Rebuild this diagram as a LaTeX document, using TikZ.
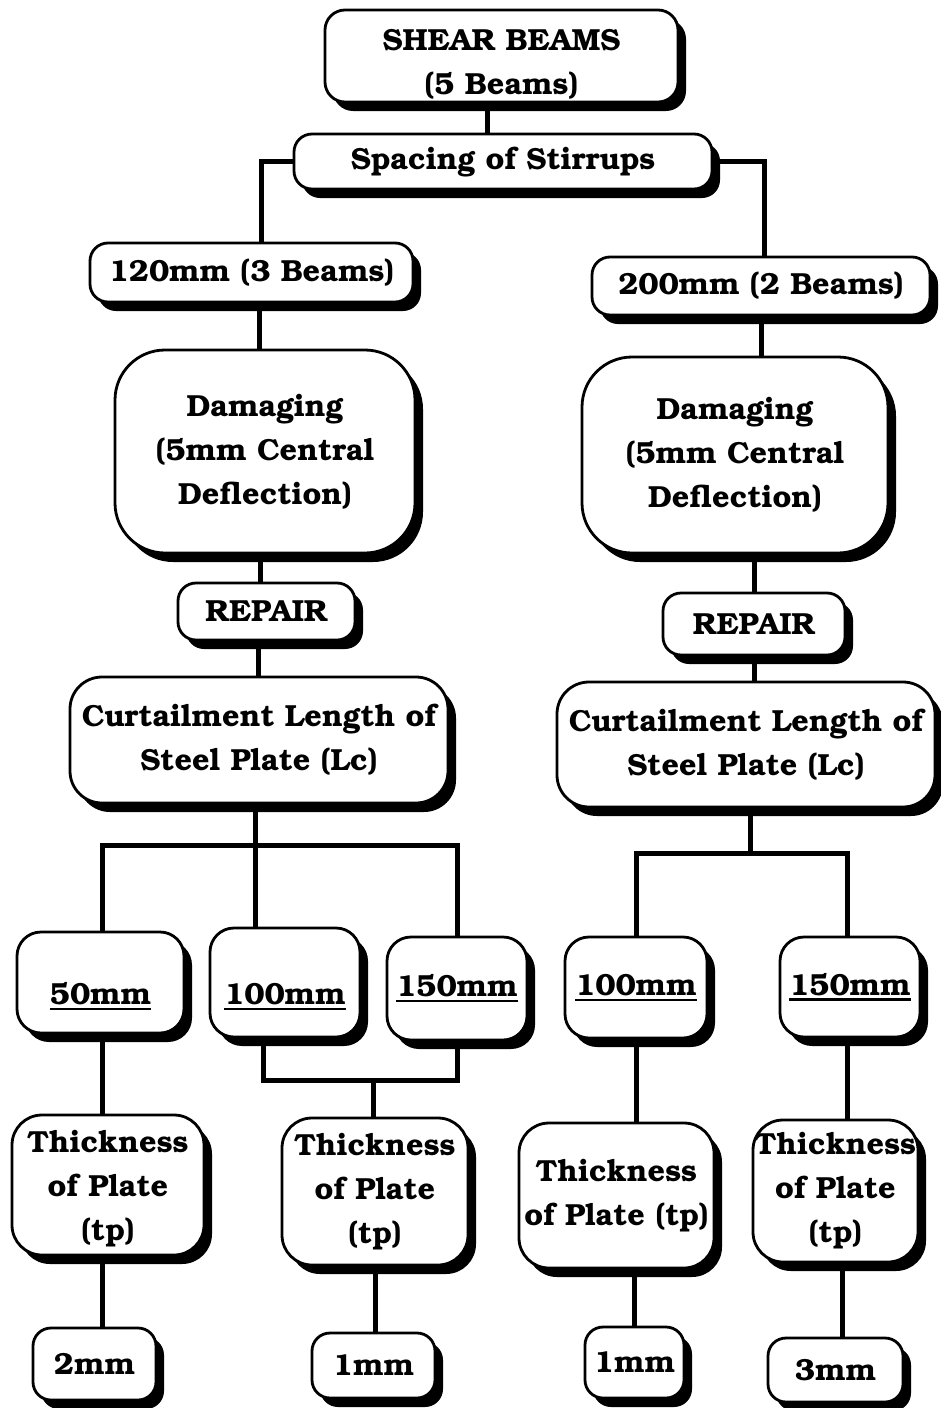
\documentclass[tikz,border=0pt]{standalone}
\usepackage[T1]{fontenc}
\usepackage{bookman}
\usetikzlibrary{shadows}
\newcommand\thkul[1]{\leavevmode\vtop{\hbox{#1}\kern2.5pt\hrule height 2.2pt}}
\tikzset{
  bx/.style={draw, line width=2.8pt, fill=white, align=center, inner sep=0pt,
    rounded corners=#1,
    font=\bfseries\fontsize{30.5}{44}\selectfont,
    drop shadow={shadow xshift=8pt, shadow yshift=-9pt, fill=black, opacity=1}},
  bx/.default=18pt,
  wire/.style={line width=5pt, line cap=butt, line join=miter}
}
\begin{document}
\begin{tikzpicture}[x=1pt,y=-1pt]
\useasboundingbox (0,0) rectangle (941,1408);
% boxes
\node[bx=20pt, minimum width=353pt, minimum height=92pt] (sb) at (501.5,56) {\rule{0pt}{32pt}SHEAR BEAMS\\\raisebox{0pt}[\height][0pt]{(5 Beams)}};
\node[bx=18pt, minimum width=418pt, minimum height=55pt] (sp) at (503,161.5) {Spacing of Stirrups};
\node[bx=18pt, minimum width=323pt, minimum height=59pt] (a120) at (251.5,272.5) {120mm (3 Beams)};
\node[bx=18pt, minimum width=338pt, minimum height=58pt] (a200) at (761,286) {200mm (2 Beams)};
\node[bx=50pt, minimum width=300pt, minimum height=203pt] (dmgL) at (265,451.5) {Damaging\\(5mm Central\\Deflection)};
\node[bx=50pt, minimum width=306pt, minimum height=196pt] (dmgR) at (735,455) {Damaging\\(5mm Central\\Deflection)};
\node[bx=18pt, minimum width=177pt, minimum height=57pt] (repL) at (266.5,611.5) {REPAIR};
\node[bx=18pt, minimum width=182pt, minimum height=62pt] (repR) at (754,624) {REPAIR};
\node[bx=32pt, minimum width=378pt, minimum height=126pt] (curL) at (259,740) {Curtailment Length of\\Steel Plate (Lc)};
\node[bx=32pt, minimum width=378pt, minimum height=125pt] (curR) at (746,744.5) {Curtailment Length of\\Steel Plate (Lc)};
\node[bx=24pt, minimum width=167pt, minimum height=101pt] (L50) at (100.5,982.5) {\rule{0pt}{50pt}\thkul{50mm}};
\node[bx=24pt, minimum width=150pt, minimum height=109pt] (L100) at (285,982.5) {\rule{0pt}{50pt}\thkul{100mm}};
\node[bx=24pt, minimum width=140pt, minimum height=103pt] (L150) at (457,988.5) {\thkul{150mm}};
\node[bx=24pt, minimum width=142pt, minimum height=101pt] (R100) at (636,987.5) {\thkul{100mm}};
\node[bx=24pt, minimum width=140pt, minimum height=100pt] (R150) at (850,987) {\thkul{150mm}};
\node[bx=30pt, minimum width=192pt, minimum height=140pt] (T1) at (108,1185) {\rule{0pt}{30pt}Thickness\\of Plate\\(tp)};
\node[bx=30pt, minimum width=186pt, minimum height=147pt] (T2) at (375,1191.5) {Thickness\\of Plate\\(tp)};
\node[bx=30pt, minimum width=195pt, minimum height=145pt] (T3) at (616.5,1195.5) {Thickness\\of Plate (tp)};
\node[bx=30pt, minimum width=165pt, minimum height=142pt] (T4) at (835.5,1191) {Thickness\\of Plate\\(tp)};
\node[bx=18pt, minimum width=123pt, minimum height=72pt] (B2) at (94.5,1364) {2mm};
\node[bx=18pt, minimum width=123pt, minimum height=65pt] (B1L) at (373.5,1365.5) {1mm};
\node[bx=18pt, minimum width=99pt, minimum height=71pt] (B1R) at (634.5,1362.5) {1mm};
\node[bx=18pt, minimum width=135pt, minimum height=64pt] (B3) at (835.5,1370) {3mm};
% junctions
\coordinate (jL) at (255,845);
\coordinate (jR) at (750,853);
\coordinate (m2) at (373,1080);
% connectors
\draw[wire] ([xshift=-14pt]sb.south) -- ([xshift=-14pt]sb.south |- sp.north);
\draw[wire] (sp.west) -| ([xshift=10pt]a120.north);
\draw[wire] (sp.east) -| ([xshift=3pt]a200.north);
\draw[wire] ([xshift=8pt]a120.south) -- ([xshift=8pt]a120.south |- dmgL.north);
\draw[wire] (a200.south) -- (a200.south |- dmgR.north);
\draw[wire] ([xshift=-6pt]repL.north |- dmgL.south) -- ([xshift=-6pt]repL.north);
\draw[wire] ([xshift=-8pt]repL.south) -- ([xshift=-8pt]repL.south |- curL.north);
\draw[wire] (repR.north |- dmgR.south) -- (repR.north);
\draw[wire] (repR.south) -- (repR.south |- curR.north);
\draw[wire] (jL |- curL.south) -- (jL);
\draw[wire] ([xshift=2pt]L50.north) |- (jL) -| (L150.north);
\draw[wire] (jL) -- (jL |- L100.north);
\draw[wire] (jR |- curR.south) -- (jR);
\draw[wire] (R100.north) |- (jR) -| ([xshift=-3pt]R150.north);
\draw[wire] ([xshift=-22pt]L100.south) |- (m2) -| (L150.south);
\draw[wire] (m2) -- (m2 |- T2.north);
\draw[wire] ([xshift=2pt]L50.south) -- ([xshift=2pt]L50.south |- T1.north);
\draw[wire] (R100.south) -- (R100.south |- T3.north);
\draw[wire] ([xshift=-3pt]R150.south) -- ([xshift=-3pt]R150.south |- T4.north);
\draw[wire] ([xshift=-6pt]T1.south) -- ([xshift=-6pt]T1.south |- B2.north);
\draw[wire] (T2.south) -- (T2.south |- B1L.north);
\draw[wire] (T3.south -| B1R.north) -- (B1R.north);
\draw[wire] ([xshift=7pt]T4.south) -- ([xshift=7pt]T4.south |- B3.north);
\end{tikzpicture}
\end{document}
